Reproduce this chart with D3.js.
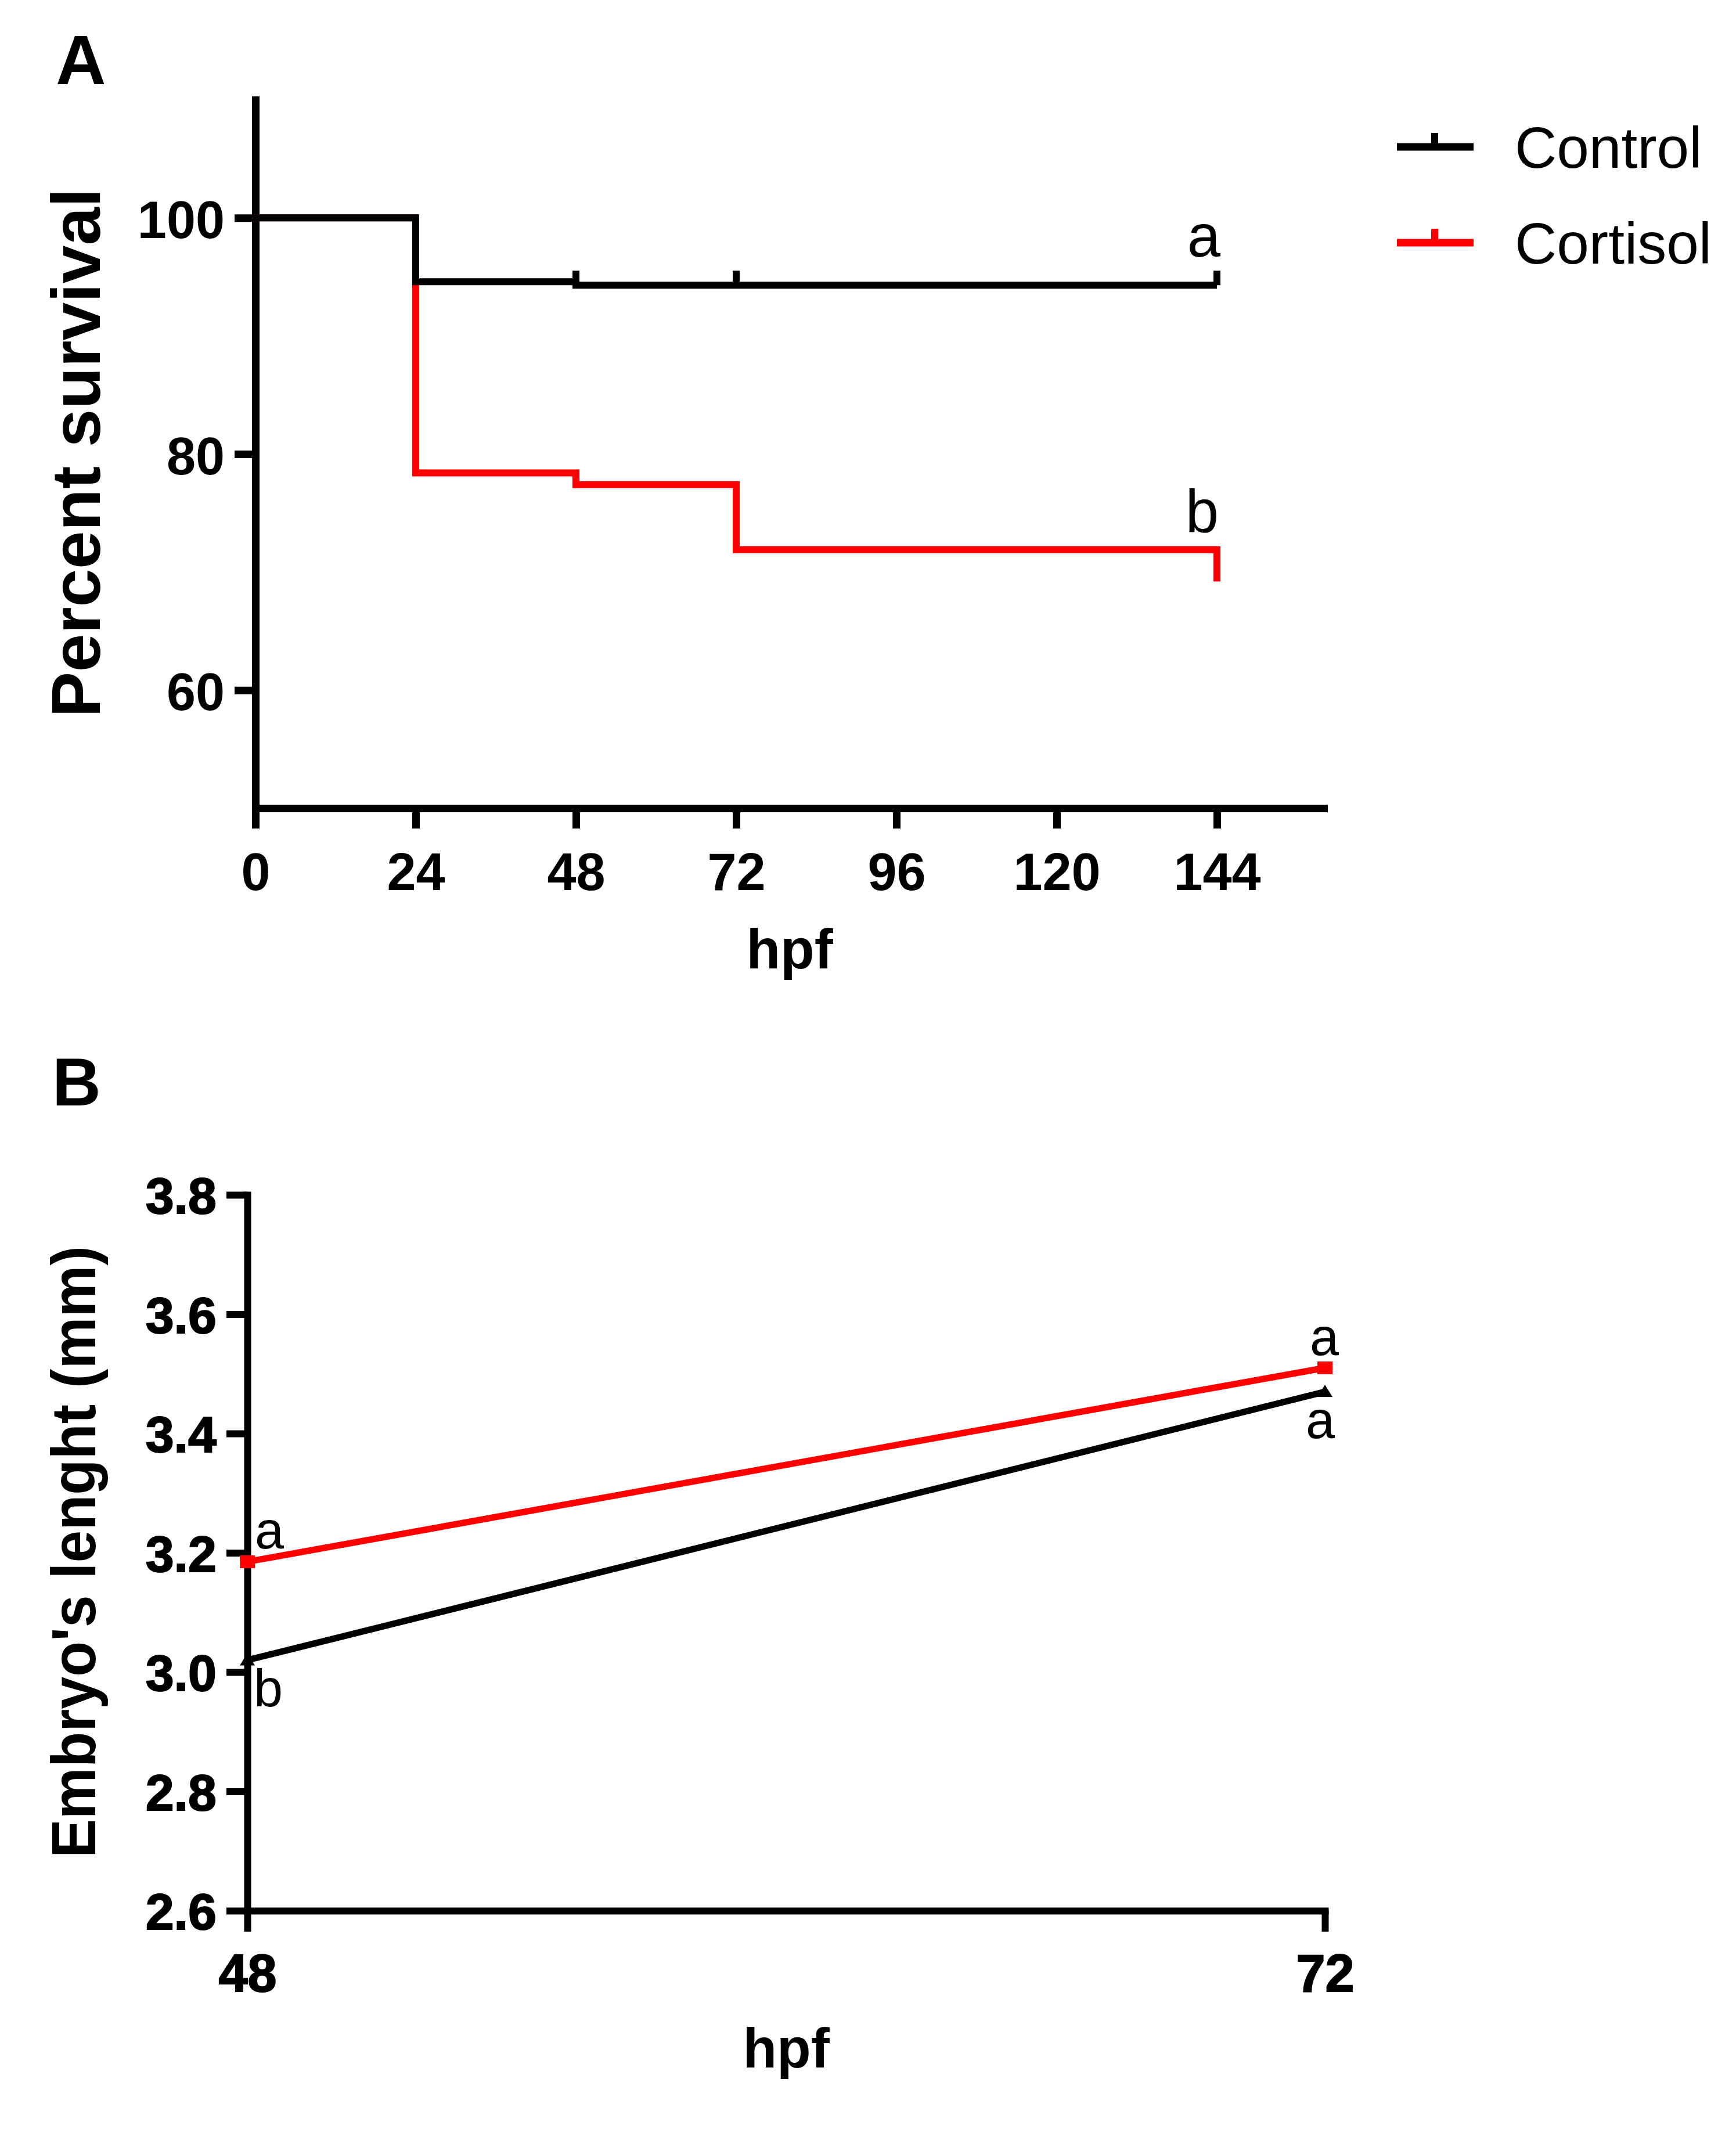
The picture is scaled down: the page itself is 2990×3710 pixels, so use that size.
<!DOCTYPE html>
<html>
<head>
<meta charset="utf-8">
<script src="https://cdn.jsdelivr.net/npm/d3@7"></script>
<style>
  body { margin: 0; background: #fff; }
  text { font-family: "Liberation Sans", Arial, sans-serif; }
</style>
</head>
<body>
<div id="chart"></div>
<script>
// Panel A - Kaplan-Meier survival
var hoursA = [0, 24, 48, 72, 144];
var controlSurvival = [100, 94.6, 94.3, 94.3, 94.3];
var cortisolSurvival = [100, 78.4, 77.4, 71.9, 69.2];
var controlCensored = [48, 72, 144];
var xTicksA = [0, 24, 48, 72, 96, 120, 144];
var yTicksA = [60, 80, 100];

// Panel B - embryo length
var hoursB = [48, 72];
var controlLength = [3.02, 3.47];
var cortisolLength = [3.185, 3.51];
var yTicksB = [2.6, 2.8, 3.0, 3.2, 3.4, 3.6, 3.8];

var width = 2990;
var height = 3710;
var font = '"Liberation Sans", Arial, sans-serif';

var svg = d3.select("#chart")
  .append("svg")
  .attr("width", width)
  .attr("height", height)
  .style("background", "#fff");

function styleAxis(g, fs, w) {
  g.attr("font-family", font);
  g.select(".domain").attr("stroke-width", w).attr("stroke-linecap", "square");
  g.selectAll(".tick line").attr("stroke-width", w);
  g.selectAll(".tick text")
    .attr("font-size", fs)
    .attr("font-weight", "bold")
    .attr("fill", "#000");
}

// ---------- Panel A ----------
var xA = d3.scaleLinear().domain([0, 160]).range([440, 2280]);
var yA = d3.scaleLinear().domain([50, 110]).range([1392, 172]);

svg.append("text")
  .attr("x", 96).attr("y", 145)
  .attr("font-size", 120).attr("font-weight", "bold")
  .text("A");

var gxA = svg.append("g")
  .attr("transform", "translate(0," + yA(50) + ")")
  .call(d3.axisBottom(xA).tickValues(xTicksA).tickSize(35).tickSizeOuter(0).tickPadding(42));
styleAxis(gxA, 90, 13);

var gyA = svg.append("g")
  .attr("transform", "translate(" + xA(0) + ",0)")
  .call(d3.axisLeft(yA).tickValues(yTicksA).tickSize(36).tickSizeOuter(0).tickPadding(17));
styleAxis(gyA, 90, 13);
gyA.selectAll(".tick text").attr("dy", "0.38em");

svg.append("text")
  .attr("transform", "translate(172,780)rotate(-90)")
  .attr("text-anchor", "middle")
  .attr("font-size", 118).attr("font-weight", "bold")
  .text("Percent survival");

svg.append("text")
  .attr("x", (xA(0) + xA(160)) / 2).attr("y", 1668)
  .attr("text-anchor", "middle")
  .attr("font-size", 96).attr("font-weight", "bold")
  .text("hpf");

var stepLine = d3.line()
  .x(function(d) { return xA(d[0]); })
  .y(function(d) { return yA(d[1]); })
  .curve(d3.curveStepAfter);

svg.append("path")
  .datum(d3.zip(hoursA, cortisolSurvival))
  .attr("d", stepLine)
  .attr("fill", "none")
  .attr("stroke", "#ff0000")
  .attr("stroke-width", 12);

svg.append("path")
  .datum(d3.zip(hoursA, controlSurvival))
  .attr("d", stepLine)
  .attr("fill", "none")
  .attr("stroke", "#000")
  .attr("stroke-width", 12);

// censor ticks
svg.selectAll(".censor")
  .data(controlCensored)
  .enter()
  .append("line")
  .attr("x1", function(d) { return xA(d); })
  .attr("x2", function(d) { return xA(d); })
  .attr("y1", function(d) { return yA(controlSurvival[hoursA.indexOf(d)]); })
  .attr("y2", function(d) { return yA(controlSurvival[hoursA.indexOf(d)]) - 25; })
  .attr("stroke", "#000")
  .attr("stroke-width", 12);

svg.append("text")
  .attr("x", xA(144) + 6).attr("y", yA(94.3) - 49)
  .attr("text-anchor", "end").attr("font-size", 103)
  .text("a");
svg.append("text")
  .attr("x", xA(144) + 3).attr("y", yA(71.9) - 31)
  .attr("text-anchor", "end").attr("font-size", 103)
  .text("b");

// legend
var legendItems = [
  { name: "Control", color: "#000", y: 253 },
  { name: "Cortisol", color: "#ff0000", y: 418 }
];
var lg = svg.selectAll(".legend")
  .data(legendItems)
  .enter()
  .append("g");
lg.append("line")
  .attr("x1", 2406).attr("x2", 2538)
  .attr("y1", function(d) { return d.y; })
  .attr("y2", function(d) { return d.y; })
  .attr("stroke", function(d) { return d.color; })
  .attr("stroke-width", 13);
lg.append("line")
  .attr("x1", 2471).attr("x2", 2471)
  .attr("y1", function(d) { return d.y; })
  .attr("y2", function(d) { return d.y - 24; })
  .attr("stroke", function(d) { return d.color; })
  .attr("stroke-width", 12);
lg.append("text")
  .attr("x", 2609)
  .attr("y", function(d) { return d.y + 36; })
  .attr("font-size", 100)
  .text(function(d) { return d.name; });

// ---------- Panel B ----------
var xB = d3.scaleLinear().domain([48, 72]).range([426, 2282]);
var yB = d3.scaleLinear().domain([2.6, 3.8]).range([3291, 2058]);

svg.append("text")
  .attr("x", 90).attr("y", 1904)
  .attr("font-size", 116).attr("font-weight", "bold")
  .text("B");

var gxB = svg.append("g")
  .attr("transform", "translate(0," + yB(2.6) + ")")
  .call(d3.axisBottom(xB).tickValues(hoursB).tickSize(36).tickSizeOuter(0).tickPadding(39));
styleAxis(gxB, 90, 12);
gxB.selectAll(".tick text").attr("stroke", "#000").attr("stroke-width", 2);

var gyB = svg.append("g")
  .attr("transform", "translate(" + xB(48) + ",0)")
  .call(d3.axisLeft(yB).tickValues(yTicksB).tickFormat(d3.format(".1f"))
    .tickSize(36).tickSizeOuter(0).tickPadding(17));
styleAxis(gyB, 88, 12);
gyB.selectAll(".tick text").attr("dy", "0.36em")
  .attr("stroke", "#000").attr("stroke-width", 2);

svg.append("text")
  .attr("transform", "translate(164,2673)rotate(-90)")
  .attr("text-anchor", "middle")
  .attr("font-size", 108).attr("font-weight", "bold")
  .attr("textLength", 1054).attr("lengthAdjust", "spacingAndGlyphs")
  .text("Embryo's lenght (mm)");

svg.append("text")
  .attr("x", (xB(48) + xB(72)) / 2).attr("y", 3561)
  .attr("text-anchor", "middle")
  .attr("font-size", 96).attr("font-weight", "bold")
  .text("hpf");

var lineB = d3.line()
  .x(function(d) { return xB(d[0]); })
  .y(function(d) { return yB(d[1]); });

var controlB = d3.zip(hoursB, controlLength);
var cortisolB = d3.zip(hoursB, cortisolLength);

svg.append("path")
  .datum(controlB)
  .attr("d", lineB)
  .attr("fill", "none")
  .attr("stroke", "#000")
  .attr("stroke-width", 11);

svg.selectAll(".tri")
  .data(controlB)
  .enter()
  .append("path")
  .attr("transform", function(d) { return "translate(" + xB(d[0]) + "," + yB(d[1]) + ")"; })
  .attr("d", "M0,-12L13,9L-13,9Z")
  .attr("fill", "#000");

svg.append("path")
  .datum(cortisolB)
  .attr("d", lineB)
  .attr("fill", "none")
  .attr("stroke", "#ff0000")
  .attr("stroke-width", 11);

svg.selectAll(".sq")
  .data(cortisolB)
  .enter()
  .append("rect")
  .attr("x", function(d) { return xB(d[0]) - 13; })
  .attr("y", function(d) { return yB(d[1]) - 11; })
  .attr("width", 26)
  .attr("height", 22)
  .attr("fill", "#ff0000");

// significance letters
var lettersB = [
  { t: "a", x: xB(48) + 13, y: yB(3.185) - 23, anchor: "start" },
  { t: "b", x: xB(48) + 11, y: yB(3.02) + 80, anchor: "start" },
  { t: "a", x: xB(72) - 1, y: yB(3.51) - 22, anchor: "middle" },
  { t: "a", x: xB(72) - 8, y: yB(3.47) + 80, anchor: "middle" }
];
svg.selectAll(".letB")
  .data(lettersB)
  .enter()
  .append("text")
  .attr("x", function(d) { return d.x; })
  .attr("y", function(d) { return d.y; })
  .attr("text-anchor", function(d) { return d.anchor; })
  .attr("font-size", 90)
  .text(function(d) { return d.t; });
</script>
</body>
</html>
